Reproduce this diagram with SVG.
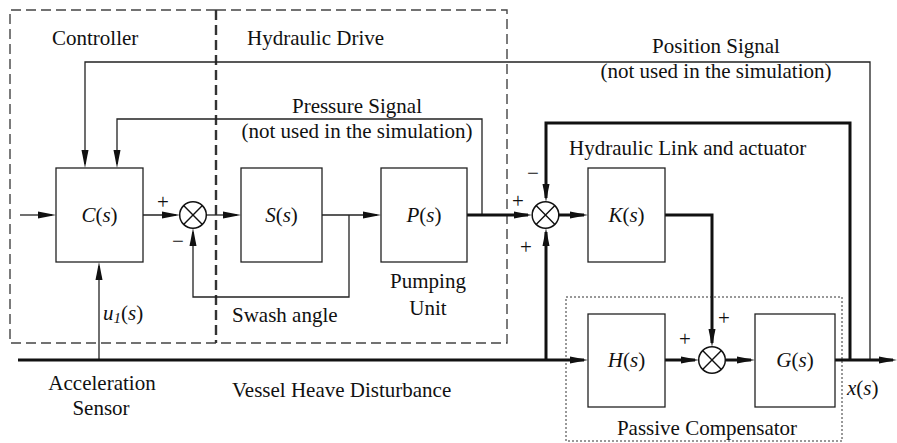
<svg xmlns="http://www.w3.org/2000/svg" width="897" height="443" viewBox="0 0 897 443">
<style>
text{font-family:'Liberation Serif','DejaVu Serif',serif;font-size:21px;fill:#111}
.m{font-style:italic}
.sg{font-size:21px}
.blk{fill:#fff;stroke:#222;stroke-width:1.3}
.thin{fill:none;stroke:#222;stroke-width:1.3}
.thick{fill:none;stroke:#111;stroke-width:3}
.sum{fill:#fff;stroke:#111;stroke-width:1.5}
.dash{fill:none;stroke:#444;stroke-width:1.4;stroke-dasharray:10 5}
</style>
<defs>
<marker id="ah" viewBox="0 -4 18 8" refX="14" refY="0" markerWidth="18" markerHeight="8" markerUnits="userSpaceOnUse" orient="auto">
<path d="M0,-3.5 L18,0 L0,3.5 z" fill="#111"/>
</marker>
</defs>

<g id="controller-region">
<path class="dash" d="M216,10 H10 V343 H216"/>
<text x="52" y="45">Controller</text>
</g>
<g id="hydraulic-drive-region">
<path class="dash" d="M216,10 H507 V343 H216"/>
<path fill="none" stroke="#333" stroke-width="2.4" stroke-dasharray="10 5" d="M216,10 V343"/>
<text x="247" y="45">Hydraulic Drive</text>
</g>
<g id="passive-compensator-region">
<rect x="566" y="297" width="276" height="144" fill="none" stroke="#333" stroke-width="1" stroke-dasharray="2 2"/>
<text x="707" y="435" text-anchor="middle">Passive Compensator</text>
</g>

<g id="connectors">
<path class="thin" d="M20,215 H52" marker-end="url(#ah)"/>
<path class="thin" d="M143,215 H176" marker-end="url(#ah)"/>
<path class="thin" d="M207,215 H237" marker-end="url(#ah)"/>
<path class="thin" d="M322,215 H377" marker-end="url(#ah)"/>
<path class="thin" d="M349,215 V297 H193 V232" marker-end="url(#ah)"/>
<path class="thin" d="M482,215 V119 H117 V164" marker-end="url(#ah)"/>
<path class="thin" d="M870,360 V62 H85 V164" marker-end="url(#ah)"/>
<path class="thin" d="M99,360 V266" marker-end="url(#ah)"/>
<path class="thick" d="M467,215 H528" marker-end="url(#ah)"/>
<path class="thick" d="M559,215 H584" marker-end="url(#ah)"/>
<path class="thick" d="M665,215 H712 V343" marker-end="url(#ah)"/>
<path class="thick" d="M18,360 H584" marker-end="url(#ah)"/>
<path class="thick" d="M546,360 V232" marker-end="url(#ah)"/>
<path class="thick" d="M850,360 V123 H546 V198" marker-end="url(#ah)"/>
<path class="thick" d="M665,360 H695" marker-end="url(#ah)"/>
<path class="thick" d="M726,360 H751" marker-end="url(#ah)"/>
<path class="thick" d="M835,360 H893" marker-end="url(#ah)"/>
</g>

<g id="C">
<rect class="blk" x="56" y="168" width="87" height="94"/>
<text x="99.5" y="222" text-anchor="middle"><tspan class="m">C</tspan>(<tspan class="m">s</tspan>)</text>
</g>
<g id="S">
<rect class="blk" x="241" y="168" width="81" height="94"/>
<text x="281.5" y="222" text-anchor="middle"><tspan class="m">S</tspan>(<tspan class="m">s</tspan>)</text>
</g>
<g id="P">
<rect class="blk" x="381" y="168" width="86" height="94"/>
<text x="424" y="222" text-anchor="middle"><tspan class="m">P</tspan>(<tspan class="m">s</tspan>)</text>
</g>
<g id="K">
<rect class="blk" x="588" y="168" width="77" height="94"/>
<text x="626.5" y="222" text-anchor="middle"><tspan class="m">K</tspan>(<tspan class="m">s</tspan>)</text>
</g>
<g id="H">
<rect class="blk" x="588" y="314" width="77" height="93"/>
<text x="626.5" y="367" text-anchor="middle"><tspan class="m">H</tspan>(<tspan class="m">s</tspan>)</text>
</g>
<g id="G">
<rect class="blk" x="755" y="314" width="80" height="93"/>
<text x="795" y="367" text-anchor="middle"><tspan class="m">G</tspan>(<tspan class="m">s</tspan>)</text>
</g>

<g id="sum1">
<circle class="sum" cx="193" cy="215" r="13.3"/>
<path d="M183.6,205.6 L202.4,224.4 M202.4,205.6 L183.6,224.4" stroke="#111" stroke-width="1.4"/>
<text class="sg" x="163" y="209" text-anchor="middle">+</text>
<text class="sg" x="178" y="248" text-anchor="middle">−</text>
</g>
<g id="sum2">
<circle class="sum" cx="545.5" cy="215" r="13.3"/>
<path d="M536.1,205.6 L554.9,224.4 M554.9,205.6 L536.1,224.4" stroke="#111" stroke-width="1.4"/>
<text class="sg" x="518" y="208" text-anchor="middle">+</text>
<text class="sg" x="533" y="180" text-anchor="middle">−</text>
<text class="sg" x="526" y="254" text-anchor="middle">+</text>
</g>
<g id="sum3">
<circle class="sum" cx="712" cy="360" r="13.3"/>
<path d="M702.6,350.6 L721.4,369.4 M721.4,350.6 L702.6,369.4" stroke="#111" stroke-width="1.4"/>
<text class="sg" x="724" y="325" text-anchor="middle">+</text>
<text class="sg" x="685" y="346" text-anchor="middle">+</text>
</g>

<g id="labels">
<text x="716" y="53" text-anchor="middle">Position Signal</text>
<text x="716" y="78" text-anchor="middle">(not used in the simulation)</text>
<text x="357" y="113" text-anchor="middle">Pressure Signal</text>
<text x="357" y="138" text-anchor="middle">(not used in the simulation)</text>
<text x="569" y="155">Hydraulic Link and actuator</text>
<text x="232" y="322">Swash angle</text>
<text x="428" y="288" text-anchor="middle">Pumping</text>
<text x="428" y="315" text-anchor="middle">Unit</text>
<text x="102" y="390" text-anchor="middle">Acceleration</text>
<text x="101" y="415" text-anchor="middle">Sensor</text>
<text x="232" y="397">Vessel Heave Disturbance</text>
<text x="847" y="395"><tspan class="m">x</tspan>(<tspan class="m">s</tspan>)</text>
<text x="103" y="320"><tspan class="m">u</tspan><tspan class="m" font-size="15" dy="3">1</tspan><tspan dy="-3">(</tspan><tspan class="m">s</tspan>)</text>
</g>
</svg>
